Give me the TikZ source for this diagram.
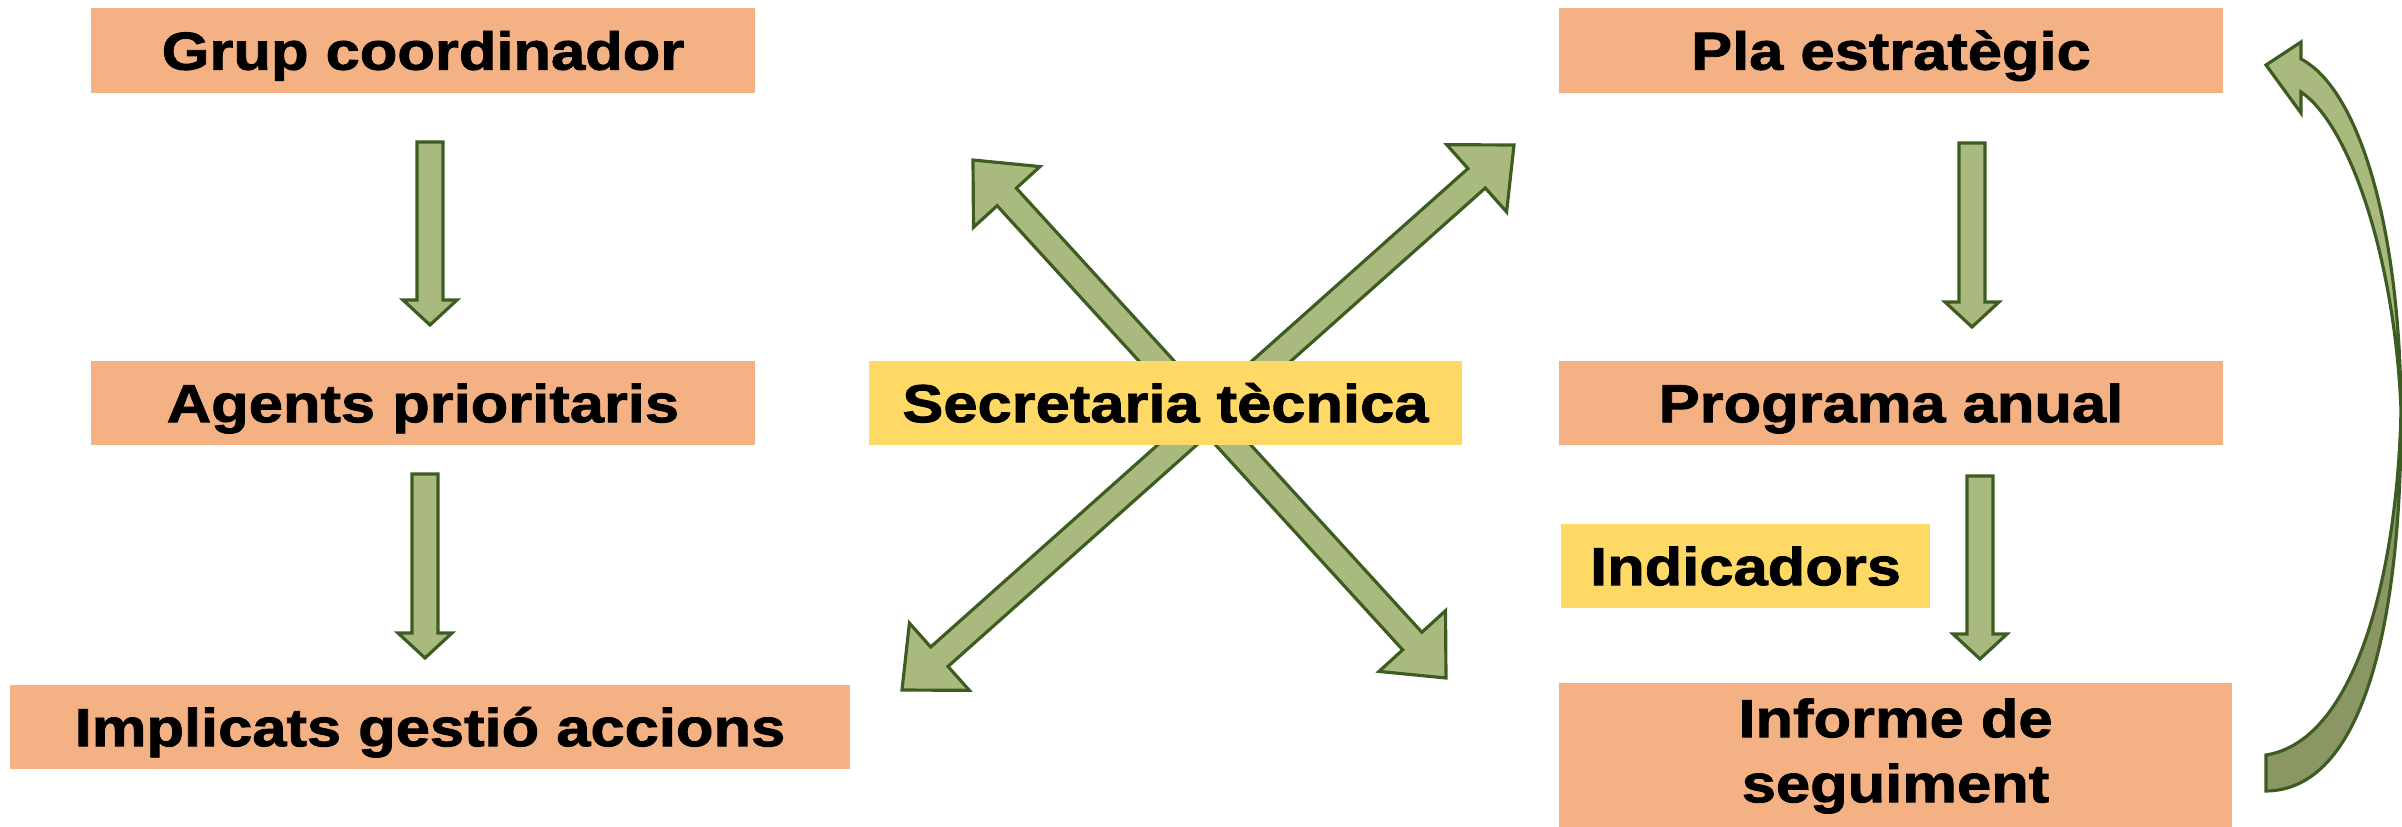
\documentclass[tikz,border=0pt]{standalone}
\usepackage{fontspec}
\usetikzlibrary{calc}
\newfontfamily\boxfont{Liberation Sans}[FakeStretch=1.15,BoldFeatures={FakeBold=1.6}]
\definecolor{salmon}{HTML}{F4B183}
\definecolor{gold}{HTML}{FFD966}
\definecolor{leaf}{HTML}{AABA7E}
\definecolor{leafdark}{HTML}{8A9764}
\definecolor{rim}{HTML}{3D5C22}
\tikzset{every node/.style={rectangle,inner sep=0pt,font=\boxfont\bfseries\fontsize{15.2}{18.5}\selectfont}}
\tikzset{box/.style={fill=salmon,minimum height=0.84cm}}
\tikzset{note/.style={fill=gold,minimum height=0.84cm}}
\tikzset{oneline/.style={text height=10.9pt,text depth=0pt}}
\tikzset{blk/.style={fill=leaf,draw=rim,line width=0.9pt,line join=miter}}
% single block arrow from #1 to #2
\newcommand{\sarrow}[2]{%
  \coordinate (hb) at ($(#2)!0.25cm!(#1)$);
  \draw[blk] ($(#1)!0.13cm!90:(#2)$) -- ($(hb)!0.13cm!-90:(#1)$) -- ($(hb)!0.27cm!-90:(#1)$)
    -- (#2) -- ($(hb)!0.27cm!90:(#1)$) -- ($(hb)!0.13cm!90:(#1)$) -- ($(#1)!0.13cm!-90:(#2)$) -- cycle;}
% double block arrow between #1 and #2
\newcommand{\darrow}[2]{%
  \coordinate (ha) at ($(#1)!0.5cm!(#2)$);
  \coordinate (hb) at ($(#2)!0.5cm!(#1)$);
  \draw[blk] (#1) -- ($(ha)!0.45cm!90:(#2)$) -- ($(ha)!0.13cm!90:(#2)$) -- ($(hb)!0.13cm!-90:(#1)$)
    -- ($(hb)!0.45cm!-90:(#1)$) -- (#2) -- ($(hb)!0.45cm!90:(#1)$) -- ($(hb)!0.13cm!90:(#1)$)
    -- ($(ha)!0.13cm!-90:(#2)$) -- ($(ha)!0.45cm!-90:(#2)$) -- cycle;}

\begin{document}
\begin{tikzpicture}[x=0.01cm,y=-0.01cm]
  \useasboundingbox (0,0) rectangle (2402,827);
  % left column
  \node[box,oneline,minimum width=6.64cm] (grup) at (423,50.5) {Grup coordinador};
  \node[box,oneline,minimum width=6.64cm] (agents) at (423,403) {Agents prioritaris};
  \node[box,oneline,minimum width=8.40cm] (impl) at (430,727) {Implicats gestió accions};
  % right column
  \node[box,oneline,minimum width=6.64cm] (pla) at (1891,50.5) {Pla estratègic};
  \node[box,oneline,minimum width=6.64cm] (prog) at (1891,403) {Programa anual};
  \node[note,oneline,minimum width=3.69cm] (indic) at (1745.5,566) {Indicadors};
  \node[box,minimum width=6.73cm,minimum height=1.46cm,align=center] (inform) at (1895.5,756) {Informe de\\seguiment};
  % arrow ends
  \coordinate (g1) at (430,142);  \coordinate (g2) at (430,325);
  \coordinate (p1) at (425,474);  \coordinate (p2) at (425,658);
  \coordinate (e1) at (1972,143); \coordinate (e2) at (1972,327);
  \coordinate (r1) at (1980,476); \coordinate (r2) at (1980,659);
  \coordinate (nw) at (973,160);  \coordinate (se) at (1446,678);
  \coordinate (ne) at (1514,145); \coordinate (sw) at (902,690);
  \foreach \a/\b in {g1/g2,p1/p2,e1/e2,r1/r2}
    \sarrow{\a}{\b};
  \foreach \a/\b in {nw/se,sw/ne}
    \darrow{\a}{\b};
  \node[note,oneline,minimum width=5.93cm] (secr) at (1165.5,403) {Secretaria tècnica};
  % curved return arrow
  \draw[blk] (2301,59) -- (2301,42) -- (2266,65) -- (2301,113) -- (2301,92)
    .. controls (2350,125) and (2395,260) .. (2401,410)
    .. controls (2400,230) and (2360,90) .. (2301,59) -- cycle;
  \draw[blk,fill=leafdark] (2266,755) .. controls (2360,740) and (2398,560) .. (2401,410)
    .. controls (2402,600) and (2370,790) .. (2266,791) -- cycle;
\end{tikzpicture}
\end{document}
